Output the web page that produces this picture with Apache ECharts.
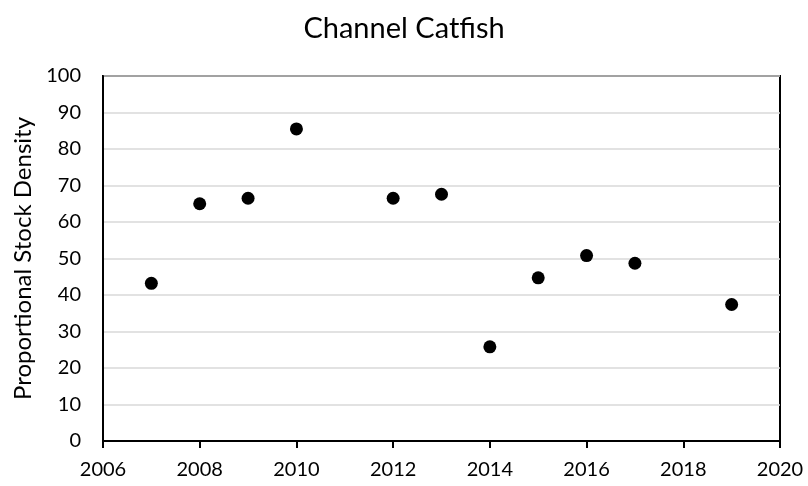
<!DOCTYPE html>
<html><head><meta charset="utf-8">
<script src="https://cdn.jsdelivr.net/npm/echarts@6/dist/echarts.min.js"></script>
<style>html,body{margin:0;padding:0;background:#fff}#c{width:808px;height:486px}</style>
</head><body><div id="c"></div>
<script>
const years = [2007, 2008, 2009, 2010, 2012, 2013, 2014, 2015, 2016, 2017, 2019];
const psd = [43.2, 65.0, 66.5, 85.5, 66.5, 67.6, 25.8, 44.7, 50.8, 48.7, 37.4];
const chartTitle = "Channel Catfish";
const yName = "Proportional Stock Density";

const chart = echarts.init(document.getElementById('c'));
const font = "Lato, 'Open Sans', sans-serif";
chart.setOption({
  animation: false,
  backgroundColor: '#fff',
  title: { text: chartTitle, left: 'center', top: 9, textStyle: { fontFamily: font, fontSize: 29, fontWeight: 'normal', color: '#000' } },
  grid: { left: 103, right: 28, top: 76, bottom: 45, show: true, borderColor: '#000', borderWidth: 2, backgroundColor: 'transparent' },
  xAxis: {
    type: 'value', min: 2006, max: 2020, interval: 2,
    axisLine: { lineStyle: { color: '#000', width: 2 } },
    axisTick: { show: true, length: 7, lineStyle: { color: '#000', width: 2 } },
    splitLine: { show: false },
    axisLabel: { color: '#000', fontFamily: font, fontSize: 20, margin: 19, formatter: v => String(v) }
  },
  yAxis: {
    type: 'value', min: 0, max: 100, interval: 10,
    name: yName, nameLocation: 'middle', nameGap: 68,
    nameTextStyle: { color: '#000', fontFamily: font, fontSize: 24 },
    axisLine: { show: true, lineStyle: { color: '#000', width: 2 } },
    axisTick: { show: false },
    splitLine: { show: true, lineStyle: { color: '#d9d9d9', width: 1.5 } },
    axisLabel: { color: '#000', fontFamily: font, fontSize: 20, margin: 22 }
  },
  series: [{
    type: 'scatter', symbol: 'circle', symbolSize: 13,
    itemStyle: { color: '#000', opacity: 1 },
    data: years.map((y, i) => [y, psd[i]])
  }]
});
</script></body></html>
